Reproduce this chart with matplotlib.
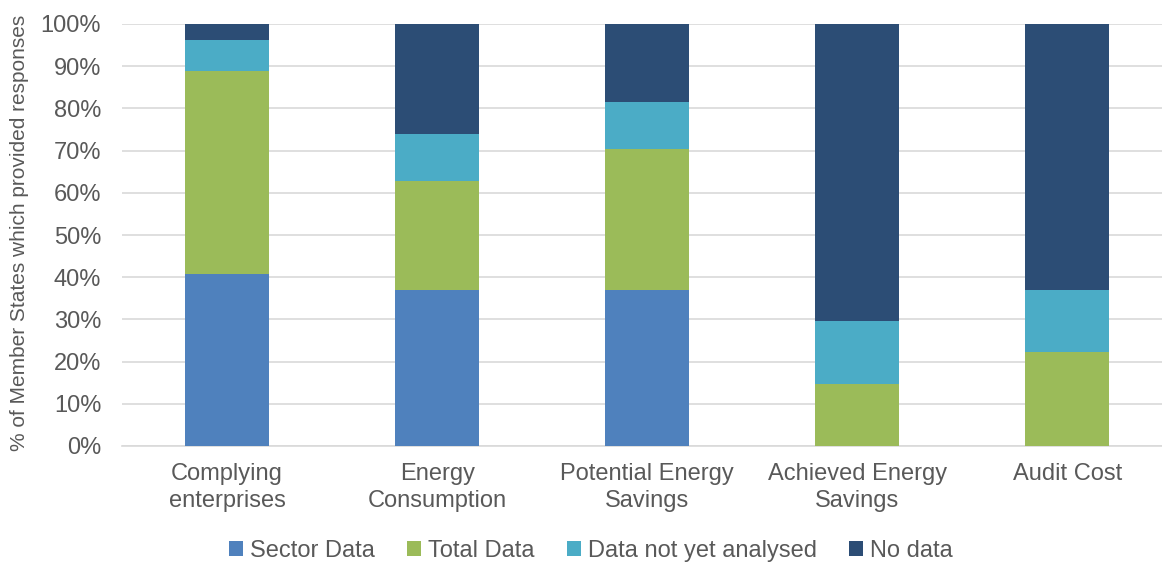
import numpy as np
import matplotlib.pyplot as plt

# === Data (% of Member States) ===
categories = ["Complying\nenterprises", "Energy\nConsumption", "Potential Energy\nSavings",
              "Achieved Energy\nSavings", "Audit Cost"]
sector_data = [40.7, 37.0, 37.0, 0.0, 0.0]
total_data = [48.1, 25.9, 33.3, 14.8, 22.2]
not_analysed = [7.4, 11.1, 11.1, 14.8, 14.8]
no_data = [3.7, 25.9, 18.5, 70.4, 63.0]

series = [
    ("Sector Data", sector_data, "#4F81BD"),
    ("Total Data", total_data, "#9BBB59"),
    ("Data not yet analysed", not_analysed, "#4BACC6"),
    ("No data", no_data, "#2C4D75"),
]

plt.rcParams['font.family'] = ['Liberation Sans', 'DejaVu Sans']
text_color = "#595959"

fig = plt.figure(figsize=(11.62, 5.65), dpi=100)
ax = fig.add_axes([122 / 1162, 1 - 446 / 565, 1 - 122 / 1162, (446 - 24) / 565])

x = np.arange(len(categories))
bottom = np.zeros(len(categories))
for name, vals, color in series:
    ax.bar(x, vals, 0.4, bottom=bottom, color=color, label=name, zorder=3)
    bottom += np.array(vals)

ax.set_xlim(-0.5, 4.45)
ax.set_ylim(0, 100)
ax.set_yticks(np.arange(0, 101, 10))
ax.set_yticklabels([f"{v}%" for v in range(0, 101, 10)])
ax.set_xticks(x)
ax.set_xticklabels(categories, linespacing=1.3)
ax.tick_params(axis='both', length=0, labelsize=17, colors=text_color)
ax.tick_params(axis='y', pad=15)
ax.tick_params(axis='x', pad=12)
ax.grid(axis='y', color="#D9D9D9", linewidth=1.2, zorder=0)
for side in ['top', 'right', 'left']:
    ax.spines[side].set_visible(False)
ax.spines['bottom'].set_color("#D9D9D9")
ax.spines['bottom'].set_linewidth(1.2)

fig.text(20 / 1162, 1 - 233 / 565, "% of Member States which provided responses",
         rotation=90, ha='center', va='center', fontsize=15, color=text_color)

leg = fig.legend(loc='center', bbox_to_anchor=(591 / 1162, 1 - 551 / 565), ncol=4,
                 frameon=False, fontsize=17, handlelength=0.6, handleheight=0.6,
                 handletextpad=0.3, columnspacing=1.35)
for t in leg.get_texts():
    t.set_color(text_color)

plt.savefig("out.png", dpi=100)
